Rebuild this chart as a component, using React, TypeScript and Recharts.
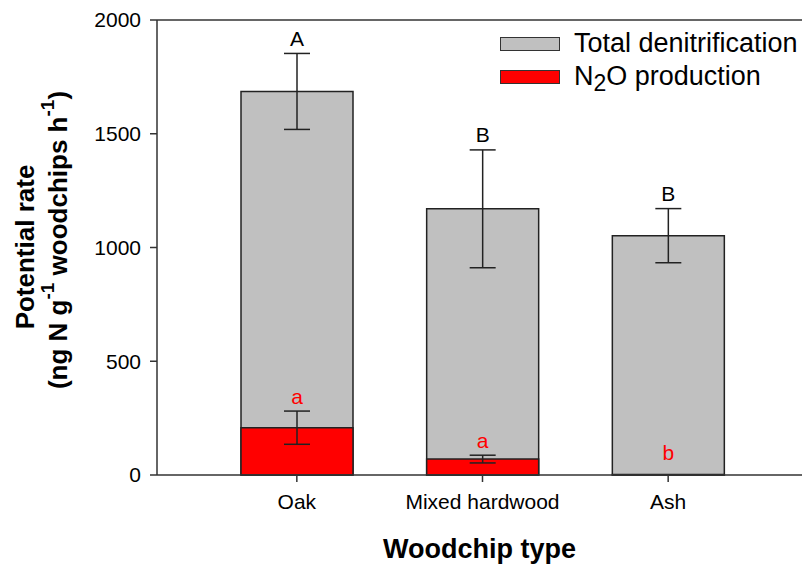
import { BarChart, Bar, XAxis, YAxis, ErrorBar, LabelList, ReferenceLine } from 'recharts';

const woodchips = ['Oak', 'Mixed hardwood', 'Ash'];
const totalDenit = [1686, 1170, 1052];
const totalErr = [167, 259, 119];
const totalLetters = ['A', 'B', 'B'];
const n2oProd = [208, 70, 2];
const n2oErr = [73, 17, 0];
const n2oLetters = ['a', 'a', 'b'];
const yTicks = [0, 500, 1000, 1500, 2000];

const data = woodchips.map((name, i) => ({
  name,
  total: totalDenit[i],
  totalErr: totalErr[i],
  totalLetter: totalLetters[i],
  n2o: n2oProd[i],
  n2oErr: n2oErr[i],
  n2oLetter: n2oLetters[i],
}));

const FONT = 'Liberation Sans, Arial, sans-serif';

const letterLabel = (values: number[], errs: number[], color: string) => (props: any) => {
  const { x, y, width, height, value, index } = props;
  const v = values[index];
  const pxPerUnit = v > 0 ? height / v : 0;
  const top = y - errs[index] * pxPerUnit;
  const gap = errs[index] > 0 ? 15 : 22;
  return (
    <text
      x={x + width / 2}
      y={top - gap}
      textAnchor="middle"
      dominantBaseline="central"
      fontFamily={FONT}
      fontSize={21}
      fill={color}
    >
      {value}
    </text>
  );
};

const YLabel = () => (
  <g fontFamily={FONT} fontWeight="bold" fontSize={26} fill="#000">
    <text x={25} y={247} textAnchor="middle" dominantBaseline="central" transform="rotate(-90 25 247)">
      Potential rate
    </text>
    <text x={58} y={240} textAnchor="middle" dominantBaseline="central" transform="rotate(-90 58 240)">
      (ng N g
      <tspan baselineShift="super" fontSize={19}>-1</tspan>
      <tspan> woodchips h</tspan>
      <tspan baselineShift="super" fontSize={19}>-1</tspan>
      <tspan>)</tspan>
    </text>
  </g>
);

const LegendBox = () => (
  <div
    style={{
      position: 'absolute',
      left: 500,
      top: 27,
      fontFamily: FONT,
      fontSize: 27,
      color: '#000',
      lineHeight: '33px',
      whiteSpace: 'nowrap',
    }}
  >
    <div style={{ display: 'flex', alignItems: 'center' }}>
      <span style={{ width: 58, height: 12, background: '#C0C0C0', border: '1px solid #333', marginRight: 14 }} />
      Total denitrification
    </div>
    <div style={{ display: 'flex', alignItems: 'center' }}>
      <span style={{ width: 58, height: 12, background: '#FF0000', border: '1px solid #333', marginRight: 14 }} />
      <span>
        N<sub style={{ fontSize: 23, verticalAlign: '-6px', lineHeight: 0 }}>2</sub>O production
      </span>
    </div>
  </div>
);

export default function App() {
  return (
    <div style={{ position: 'absolute', left: 0, top: 0, width: 802, height: 564, background: '#fff' }}>
      <BarChart width={802} height={564} data={data} margin={{ top: 20, right: 0, bottom: 0, left: 0 }}>
        <XAxis
          xAxisId="grey"
          dataKey="name"
          height={89}
          padding={{ left: 47, right: 41 }}
          tick={{ fontFamily: FONT, fontSize: 21, fill: '#000' }}
          tickSize={7}
          tickMargin={12}
          axisLine={{ stroke: '#333', strokeWidth: 1.5 }}
          tickLine={{ stroke: '#333', strokeWidth: 1.5 }}
          label={{
            value: 'Woodchip type',
            position: 'insideBottom',
            offset: 6,
            style: { fontFamily: FONT, fontSize: 27, fontWeight: 'bold', fill: '#000' },
          }}
        />
        <XAxis xAxisId="red" dataKey="name" hide padding={{ left: 47, right: 41 }} />
        <YAxis
          domain={[0, 2000]}
          ticks={yTicks}
          width={157}
          interval={0}
          tick={{ fontFamily: FONT, fontSize: 21, fill: '#000' }}
          tickSize={7}
          tickMargin={9}
          axisLine={{ stroke: '#333', strokeWidth: 1.5 }}
          tickLine={{ stroke: '#333', strokeWidth: 1.5 }}
          label={<YLabel />}
        />
        <ReferenceLine xAxisId="grey" y={2000} stroke="#333" strokeWidth={1.5} />
        <Bar xAxisId="grey" dataKey="total" barSize={112} fill="#C0C0C0" stroke="#222" strokeWidth={1.5} isAnimationActive={false}>
          <ErrorBar dataKey="totalErr" width={13} stroke="#222" strokeWidth={1.5} />
          <LabelList dataKey="totalLetter" content={letterLabel(totalDenit, totalErr, '#000')} />
        </Bar>
        <Bar xAxisId="red" dataKey="n2o" barSize={112} fill="#FF0000" stroke="#222" strokeWidth={1.5} isAnimationActive={false}>
          <ErrorBar dataKey="n2oErr" width={13} stroke="#222" strokeWidth={1.5} />
          <LabelList dataKey="n2oLetter" content={letterLabel(n2oProd, n2oErr, '#FF0000')} />
        </Bar>
      </BarChart>
      <LegendBox />
    </div>
  );
}
